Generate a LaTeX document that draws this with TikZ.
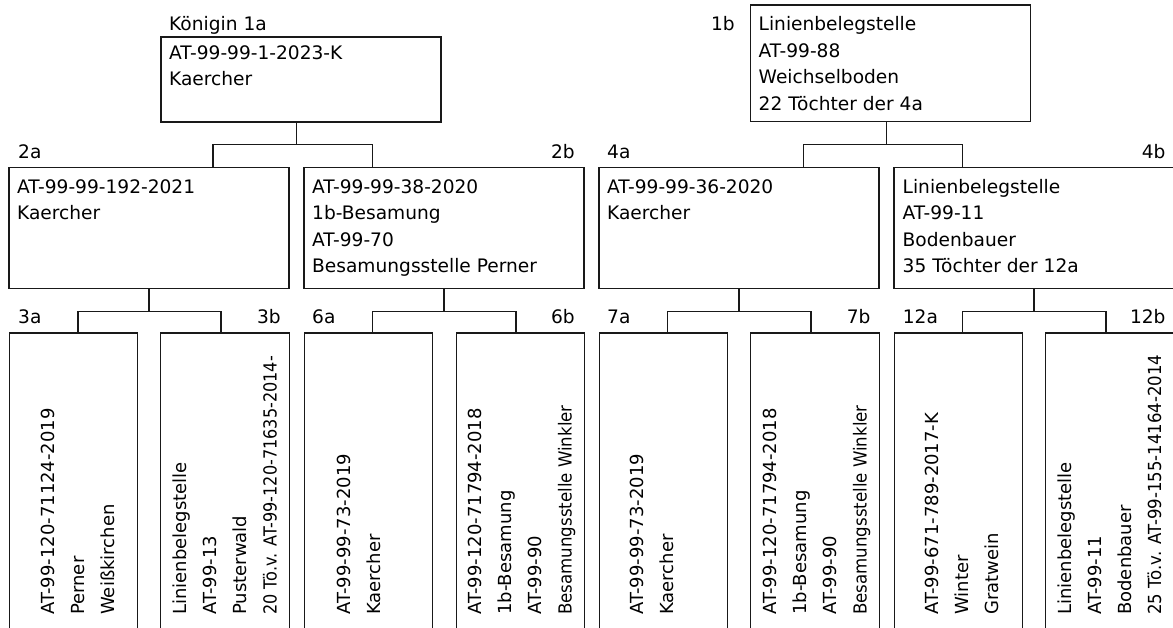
\documentclass[tikz,border=0pt]{standalone}
\usepackage{fontspec}
\usepackage{graphicx}
\setmainfont{DejaVu Sans}
\newcommand\mlines[1]{\begin{tabular}[t]{@{}l@{}}#1\end{tabular}}
\newcommand\squeeze[2]{\scalebox{#1}[1]{#2}}
\begin{document}
\begin{tikzpicture}[x=1pt,y=-1pt,
  ln/.style={line width=1.2pt, draw=black!90},
  box/.style={ln, inner sep=0pt, outer sep=0pt, minimum width=280pt, minimum height=120.6pt},
  tall/.style={ln, inner sep=0pt, outer sep=0pt, minimum width=128.5pt, minimum height=330pt, anchor=north},
  htxt/.style={anchor=base west, inner sep=0pt, font=\fontsize{18.6}{26.4}\selectfont},
  vtxt/.style={anchor=base west, inner sep=0pt, rotate=90, font=\fontsize{18}{30}\selectfont},
  lblw/.style={anchor=base west, inner sep=0pt, font=\fontsize{18.6}{22}\selectfont},
  lble/.style={anchor=base east, inner sep=0pt, font=\fontsize{18.6}{22}\selectfont},
  conn/.style={ln}
]
\useasboundingbox (0,0) rectangle (1173,628);
\fill[white] (0,0) rectangle (1173,628);
\clip (0,0) rectangle (1173,628);

% top row
\node[box, minimum height=85pt] (n1a) at (301,79.5) {};
\node[box, minimum height=116.7pt] (n1b) at (890.35,63.35) {};
% middle row
\node[box] (n2a) at (149,228) {};
\node[box] (n2b) at (444,228) {};
\node[box] (n4a) at (739,228) {};
\node[box] (n4b) at (1034,228) {};
% bottom row
\node[tall] (n3a) at (73.5,333) {};
\node[tall] (n3b) at (225,333) {};
\node[tall] (n6a) at (368.5,333) {};
\node[tall] (n6b) at (520.5,333) {};
\node[tall] (n7a) at (663.5,333) {};
\node[tall] (n7b) at (815,333) {};
\node[tall] (n12a) at (958.5,333) {};
\node[tall] (n12b) at (1110,333) {};

% labels
\node[lblw] (l1a) at (169,31) {Königin 1a};
\node[lble] (l1b) at (735,31) {1b};
\node[lblw] (l2a) at (18,158.7) {2a};
\node[lble] (l2b) at (575,158.7) {2b};
\node[lblw] (l4a) at (607,158.7) {4a};
\node[lble] (l4b) at (1165.7,158.7) {4b};
\node[lblw] (l3a) at (18,324) {3a};
\node[lble] (l3b) at (281,324) {3b};
\node[lblw] (l6a) at (312,324) {6a};
\node[lble] (l6b) at (575,324) {6b};
\node[lblw] (l7a) at (607,324) {7a};
\node[lble] (l7b) at (870.7,324) {7b};
\node[lblw] (l12a) at (902.7,324) {12a};
\node[lble] (l12b) at (1165.7,324) {12b};

% box texts
\node[htxt] (t1a) at (169,59.3) {\mlines{AT-99-99-1-2023-K\\Kaercher}};
\node[htxt] (t1b) at (758.5,31) {\mlines{Linienbelegstelle\\AT-99-88\\Weichselboden\\22 Töchter der 4a}};
\node[htxt] (t2a) at (17,193.3) {\mlines{AT-99-99-192-2021\\Kaercher}};
\node[htxt] (t2b) at (312,193.3) {\mlines{AT-99-99-38-2020\\1b-Besamung\\AT-99-70\\Besamungsstelle Perner}};
\node[htxt] (t4a) at (607,193.3) {\mlines{AT-99-99-36-2020\\Kaercher}};
\node[htxt] (t4b) at (902.5,193.3) {\mlines{Linienbelegstelle\\AT-99-11\\Bodenbauer\\35 Töchter der 12a}};

\node[vtxt] (t3a) at (54,615) {\mlines{AT-99-120-71124-2019\\Perner\\Weißkirchen}};
\node[vtxt] (t3b) at (186.5,615) {\mlines{Linienbelegstelle\\AT-99-13\\Pusterwald\\\squeeze{0.894}{20 Tö.v. AT-99-120-71635-2014-}}};
\node[vtxt] (t6a) at (350,615) {\mlines{AT-99-99-73-2019\\Kaercher}};
\node[vtxt] (t6b) at (481.5,615) {\mlines{AT-99-120-71794-2018\\1b-Besamung\\AT-99-90\\\squeeze{0.923}{Besamungsstelle Winkler}}};
\node[vtxt] (t7a) at (643.5,615) {\mlines{AT-99-99-73-2019\\Kaercher}};
\node[vtxt] (t7b) at (776.5,615) {\mlines{AT-99-120-71794-2018\\1b-Besamung\\AT-99-90\\\squeeze{0.923}{Besamungsstelle Winkler}}};
\node[vtxt] (t12a) at (938.5,615) {\mlines{AT-99-671-789-2017-K\\Winter\\Gratwein}};
\node[vtxt] (t12b) at (1071,615) {\mlines{Linienbelegstelle\\AT-99-11\\Bodenbauer\\\squeeze{0.92}{25 Tö.v. AT-99-155-14164-2014}}};

% junctions and drop points
\coordinate (j1a) at (296.7,144.7);
\coordinate (j1b) at (886.7,144.7);
\coordinate (j2a) at (149,311.7);
\coordinate (j2b) at (444,311.7);
\coordinate (j4a) at (739,311.7);
\coordinate (j4b) at (1034,311.7);
\coordinate (d2a) at (213,0);
\coordinate (d2b) at (372.7,0);
\coordinate (d4a) at (803.7,0);
\coordinate (d4b) at (962.5,0);
\coordinate (d3a) at (78,0);
\coordinate (d3b) at (221,0);
\coordinate (d6a) at (372.7,0);
\coordinate (d6b) at (516,0);
\coordinate (d7a) at (667.3,0);
\coordinate (d7b) at (811,0);
\coordinate (d12a) at (962.3,0);
\coordinate (d12b) at (1106,0);

% connectors
\draw[conn] (n1a.south -| j1a) -- (j1a);
\draw[conn] (n2a.north -| d2a) |- (j1a) -| (n2b.north -| d2b);
\draw[conn] (n1b.south -| j1b) -- (j1b);
\draw[conn] (n4a.north -| d4a) |- (j1b) -| (n4b.north -| d4b);
\draw[conn] (n2a.south) -- (j2a);
\draw[conn] (n3a.north -| d3a) |- (j2a) -| (n3b.north -| d3b);
\draw[conn] (n2b.south) -- (j2b);
\draw[conn] (n6a.north -| d6a) |- (j2b) -| (n6b.north -| d6b);
\draw[conn] (n4a.south) -- (j4a);
\draw[conn] (n7a.north -| d7a) |- (j4a) -| (n7b.north -| d7b);
\draw[conn] (n4b.south) -- (j4b);
\draw[conn] (n12a.north -| d12a) |- (j4b) -| (n12b.north -| d12b);
\end{tikzpicture}
\end{document}
